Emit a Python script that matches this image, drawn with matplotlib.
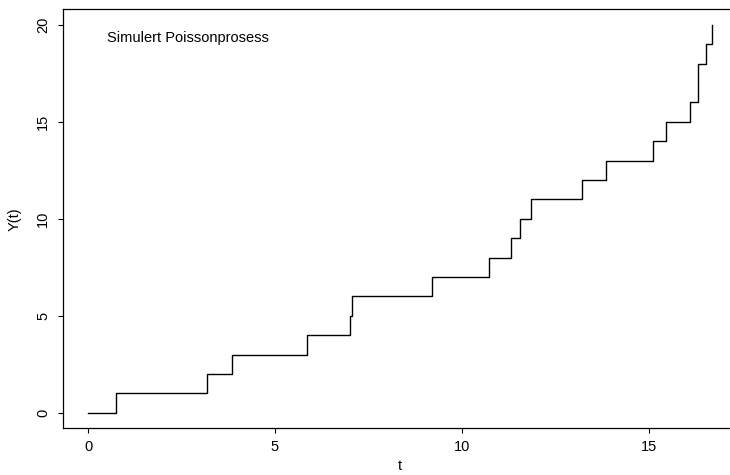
import matplotlib
matplotlib.use("Agg")
import matplotlib.pyplot as plt

# jump times of the simulated Poisson process
jump_times = [0.73, 3.19, 3.84, 5.85, 7.00, 7.05, 9.19, 10.74, 11.31, 11.57,
              11.86, 13.21, 13.85, 15.11, 15.46, 16.12, 16.33, 16.33, 16.53, 16.70]
t = [0.0] + jump_times
y = list(range(len(t)))

x_ticks = [0, 5, 10, 15]
y_ticks = [0, 5, 10, 15, 20]

plt.rcParams["font.family"] = ["Liberation Sans", "DejaVu Sans"]
fs = 10.5

fig = plt.figure(figsize=(7.3, 4.75), dpi=100)
ax = fig.add_axes([0.0867, 0.0983, 0.9229, 0.8821])

ax.step(t, y, where="post", color="black", linewidth=1.0)

# R-style 4% padding on both axes
xr = t[-1] - t[0]
yr = y[-1] - y[0]
ax.set_xlim(t[0] - 0.04 * xr, t[-1] + 0.04 * xr)
ax.set_ylim(y[0] - 0.04 * yr, y[-1] + 0.04 * yr)

ax.set_xticks(x_ticks)
ax.set_yticks(y_ticks)
ax.set_yticklabels([str(v) for v in y_ticks], rotation=90, va="center")
ax.tick_params(axis="x", pad=4.5)
ax.tick_params(axis="y", pad=6)
ax.tick_params(length=3.6, width=0.8, labelsize=fs, color="black")
for s in ax.spines.values():
    s.set_linewidth(0.9)
    s.set_color("black")

ax.set_xlabel("t", fontsize=fs, labelpad=4)
ax.set_ylabel("Y(t)", fontsize=fs, labelpad=10)

ax.text(2.66, 19.33, "Simulert Poissonprosess", ha="center", va="center", fontsize=fs)

fig.savefig("out.png", dpi=100)
plt.close(fig)
